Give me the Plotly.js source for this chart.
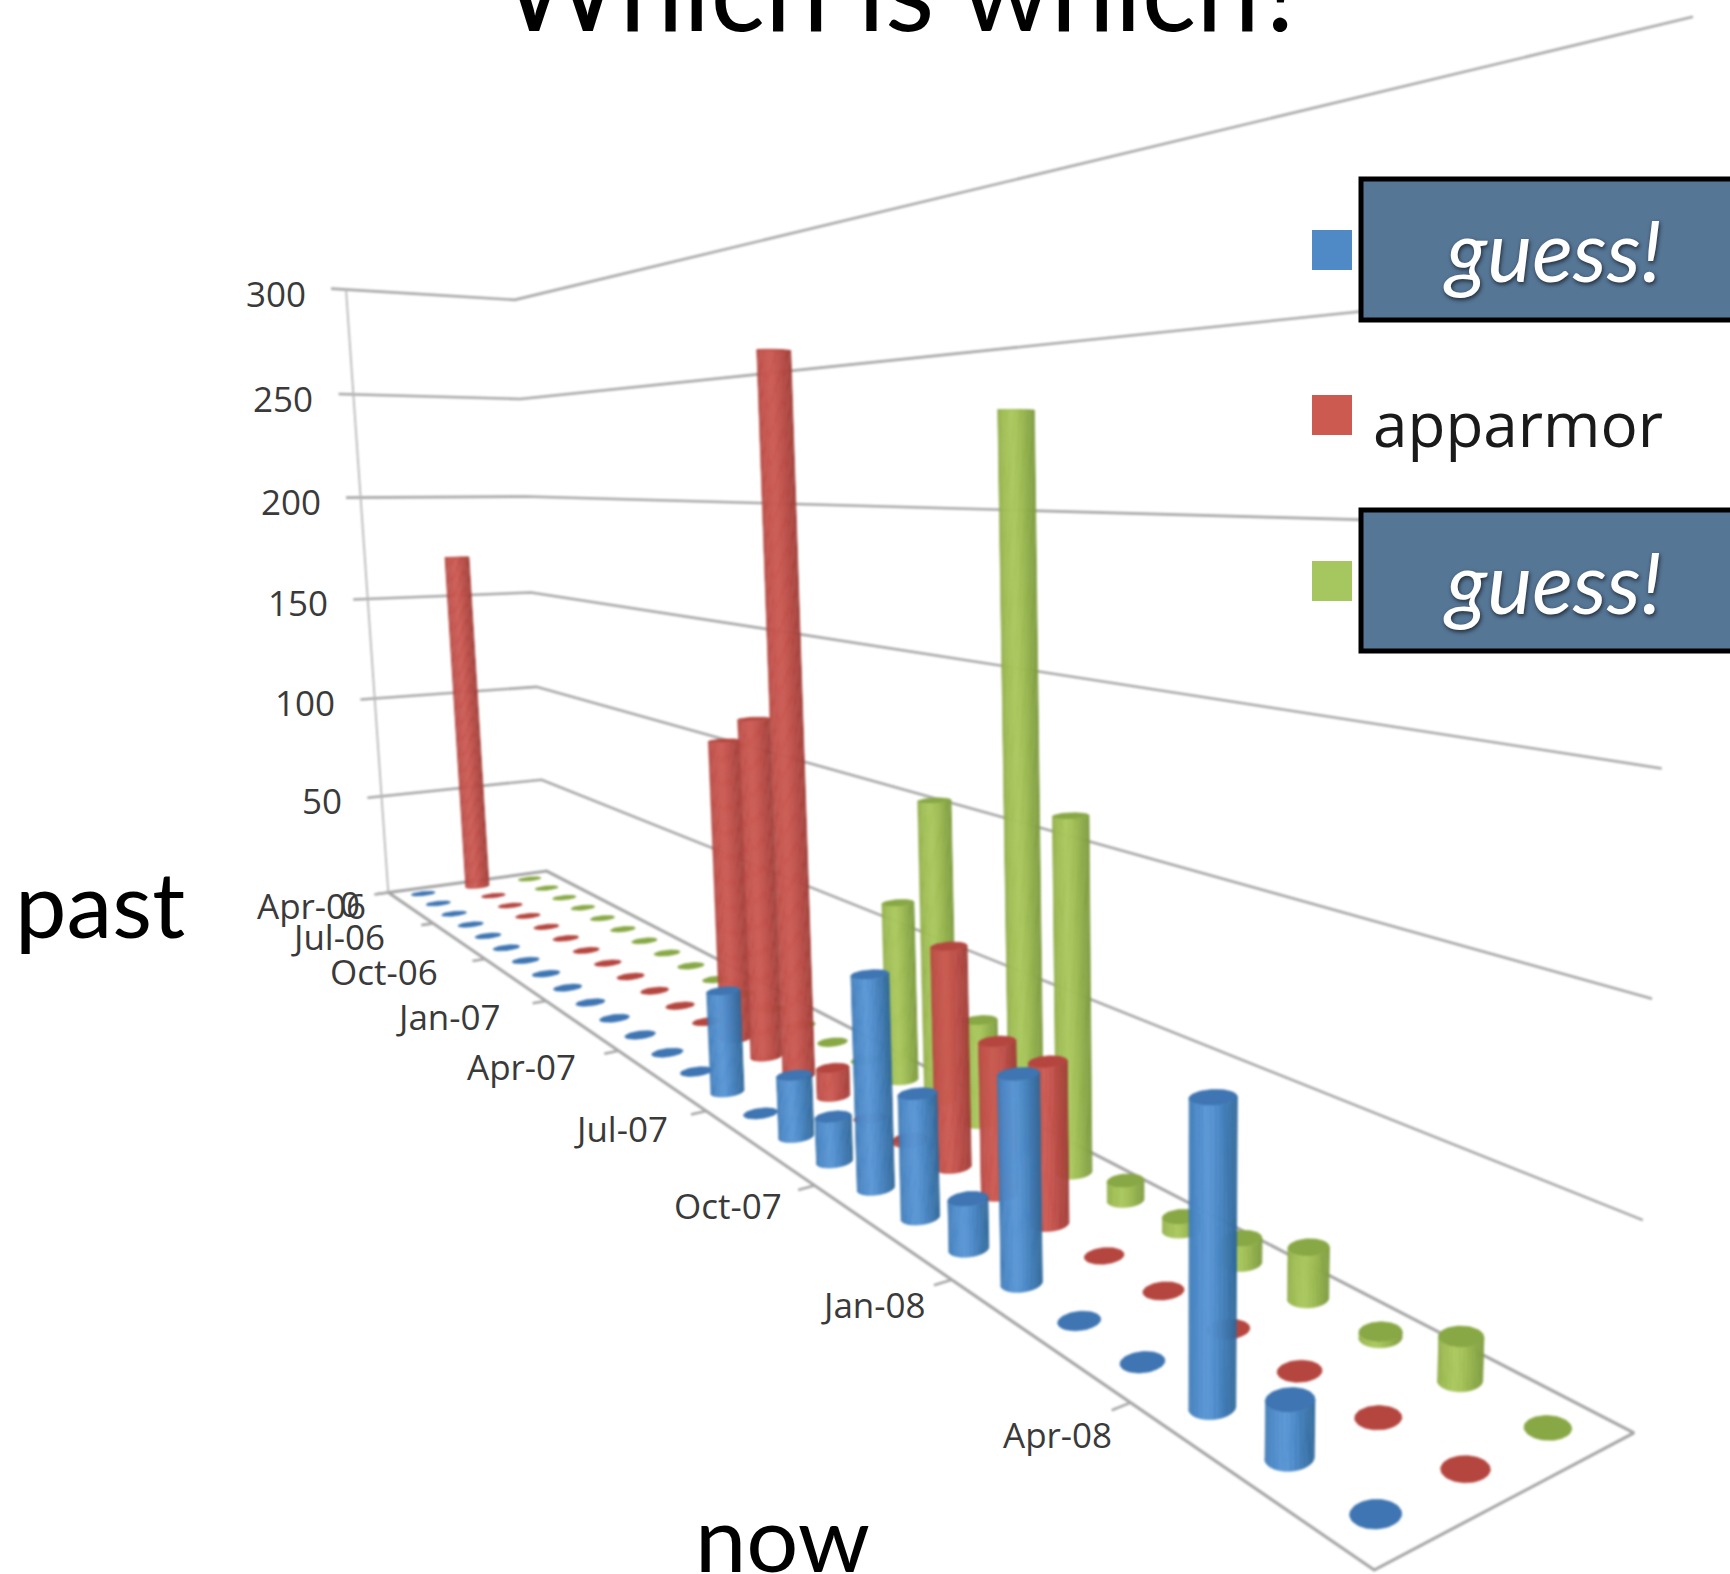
<!DOCTYPE html>
<html><head><meta charset="utf-8">
<script src="https://cdn.plot.ly/plotly-3.0.1.min.js"></script>
<style>html,body{margin:0;padding:0;background:#fff;overflow:hidden}
.scatterlayer{filter:blur(0.9px)}</style></head>
<body><div id="chart" style="width:1730px;height:1574px"></div>
<script>
const months = ["Apr-06","May-06","Jun-06","Jul-06","Aug-06","Sep-06","Oct-06","Nov-06","Dec-06","Jan-07","Feb-07","Mar-07","Apr-07","May-07","Jun-07","Jul-07","Aug-07","Sep-07","Oct-07","Nov-07","Dec-07","Jan-08","Feb-08","Mar-08","Apr-08","May-08","Jun-08"];
const tickMonths = ["Apr-06","Jul-06","Oct-06","Jan-07","Apr-07","Jul-07","Oct-07","Jan-08","Apr-08"];
const valueTicks = [0,50,100,150,200,250,300];
const seriesNames = ["guess!","apparmor","guess!"];
const series1 = [0,0,0,0,0,0,0,0,0,0,0,0,0,0,36,0,20.5,14.5,66,37,14.5,57.5,0,0,74,13.5,0];
const series2 = [170,0,0,0,0,0,0,0,0,0,0,0,114,125,252,10,0,1,70,47,48,0,0,0,0,0,0];
const series3 = [0,0,0,0,0,0,0,0,0,0,0,0,0,0,0,64,104,35,230,111,6,4,7,14,1.5,11,0];
const seriesValues = [series1,series2,series3];
const blues  = ["#2f6798","#4a87c6","#5b98d6","#3e75b2"];
const reds   = ["#a03d37","#c1504a","#cc5c54","#b5463f"];
const greens = ["#7c9a3e","#9dbb52","#abc95f","#88a845"];
const palette = [blues,reds,greens];
const S = 1730/1568;
// camera calibration: [month, series, value, px, py] in reference view
const calib = [
[0,0,0,355,810],[0,0,50,347,722],[0,0,100,340,632],[0,0,150,333,540],[0,0,200,326,450],[0,0,250,319,357],[0,0,300,312,265],
[0,3,0,490,790],[0,3,50,490,707],[0,3,100,487,622],[0,3,150,484,537],[0,3,200,480,450],[0,3,250,472,362],[0,3,300,465,272],
[27,3,0,1480,1298],[27,3,50,1490,1105],[27,3,100,1498,905],[27,3,150,1505,697],[27,3,300,1535,15],
[27,0,0,1240,1420],[26.5,.5,0,1250,1372],[26.5,1.5,0,1330,1330],[26.5,2.5,0,1403,1293],[24.5,.5,0,1100,1280],[18.5,.5,0,790,1078],[21.5,.5,0,928,1165],[14.5,.5,0,660,990]
];
function solve(A,b){const n=b.length;for(let i=0;i<n;i++){let p=i;for(let r=i+1;r<n;r++)if(Math.abs(A[r][i])>Math.abs(A[p][i]))p=r;
 [A[i],A[p]]=[A[p],A[i]];[b[i],b[p]]=[b[p],b[i]];
 for(let r=i+1;r<n;r++){const f=A[r][i]/A[i][i];for(let c=i;c<n;c++)A[r][c]-=f*A[i][c];b[r]-=f*b[i];}}
 const x=new Array(n).fill(0);for(let i=n-1;i>=0;i--){let s=b[i];for(let c=i+1;c<n;c++)s-=A[i][c]*x[c];x[i]=s/A[i][i];}return x;}
const US=1/27,VS=1/3,HS=1/300,PS=1/1000;
function fit(){const rows=[],rhs=[];
 calib.forEach(([m,s,h,px,py])=>{const u=m*US,v=s*VS,w=h*HS,X=px*S*PS,Y=py*S*PS;
  rows.push([u,v,w,1,0,0,0,0,-X*u,-X*v,-X*w]);rhs.push(X);
  rows.push([0,0,0,0,u,v,w,1,-Y*u,-Y*v,-Y*w]);rhs.push(Y);});
 const n=11,A=[...Array(n)].map(()=>Array(n).fill(0)),b=Array(n).fill(0);
 rows.forEach((r,k)=>{for(let i=0;i<n;i++){b[i]+=r[i]*rhs[k];for(let j=0;j<n;j++)A[i][j]+=r[i]*r[j];}});
 return solve(A,b);}
const C=fit();
function P(m,s,h){const u=m*US,v=s*VS,w=h*HS,d=C[8]*u+C[9]*v+C[10]*w+1;
 return [(C[0]*u+C[1]*v+C[2]*w+C[3])/d/PS,(C[4]*u+C[5]*v+C[6]*w+C[7])/d/PS];}

const traces=[];
function line(pts,color,width){traces.push({type:'scatter',mode:'lines',x:pts.map(p=>p[0]),y:pts.map(p=>p[1]),line:{color,width},hoverinfo:'skip',showlegend:false});}
function poly(pts,color){traces.push({type:'scatter',mode:'lines',x:pts.map(p=>p[0]),y:pts.map(p=>p[1]),fill:'toself',fillcolor:color,line:{color,width:0.6},hoverinfo:'skip',showlegend:false});}
const grid='#a8a8a8';
const nM=months.length,topV=Math.max(...valueTicks);
valueTicks.forEach(h=>{ if(h>0) line([P(0,-0.25,h),P(0,0,h),P(0,3,h),P(nM,3,h)],grid,2.6); else line([P(0,-0.25,0),P(0,0,0)],grid,2.6);});
line([P(0,0,0),P(0,0,topV)],'#b8b8b8',1.8);
line([P(0,0,0),P(0,3,0),P(nM,3,0),P(nM,0,0),P(0,0,0)],'#a4a4a4',3);
tickMonths.forEach(t=>{const m=months.indexOf(t);line([P(m,-0.2,0),P(m,0,0)],grid,2.6);});

function hex(c){return [1,3,5].map(i=>parseInt(c.substr(i,2),16));}
function mix(a,b,f){const A=hex(a),B=hex(b);return 'rgb('+A.map((x,i)=>Math.round(x+(B[i]-x)*f)).join(',')+')';}
function shade(pal,s){ if(s<.12) return mix(pal[1],pal[0],.45*(1-s/.12)); if(s<.4) return mix(pal[1],pal[2],(s-.12)/.28);
 if(s<.62) return mix(pal[2],pal[1],(s-.4)/.22); return mix(pal[1],pal[0],(s-.62)/.38);}
const RU=.185,RV=.212,N=64;
function ring(m,s,h){const o=[];for(let i=0;i<N;i++){const t=2*Math.PI*i/N;o.push(P(m+RU*Math.cos(t),s+RV*Math.sin(t),h));}return o;}
function cylinder(m,s,val,pal){
 const base=ring(m,s,0);
 if(!val){poly(base,pal[3]);return;}
 const tp=ring(m,s,val);
 poly(tp,pal[3]);
 let iL=0,iR=0;base.forEach((p,i)=>{if(p[0]<base[iL][0])iL=i;if(p[0]>base[iR][0])iR=i;});
 // front arc: the path from left to right with the larger screen y
 const fwd=[],bck=[];
 for(let i=iL;;i=(i+1)%N){fwd.push(i);if(i===iR)break;}
 for(let i=iL;;i=(i-1+N)%N){bck.push(i);if(i===iR)break;}
 const sum=a=>a.reduce((q,i)=>q+base[i][1],0)/a.length;
 const arc=sum(fwd)>sum(bck)?fwd:bck;
 const x0=base[iL][0],x1=base[iR][0];
 for(let k=0;k<arc.length-1;k+=2){
  const e=Math.min(k+2,arc.length-1),a=arc[k],b=arc[e];
  const sm=((base[a][0]+base[b][0])/2-x0)/(x1-x0);
  const bot=[],up=[];for(let j=k;j<=e;j++){bot.push(base[arc[j]]);up.push(tp[arc[j]]);}
  poly(bot.concat(up.reverse()),shade(pal,sm));
 }
}
for(let s=seriesValues.length-1;s>=0;s--){seriesValues[s].forEach((v,m)=>cylinder(m+.5,s+.5,v,palette[s]));}

const tickFont={family:'"Open Sans",sans-serif',size:35,color:'#3a3a3a'};
const ann=[];
valueTicks.forEach(h=>{const p=P(0,0,h);ann.push({x:p[0],y:p[1],xref:'x',yref:'y',text:String(h),showarrow:false,xanchor:'right',yanchor:'middle',xshift:h?-38:-26,yshift:h?-4:-11,font:tickFont});});
tickMonths.forEach(t=>{const m=months.indexOf(t),p=P(m,0,0);
 const dx=m?(-18+.061*(m-3)*(m-3)):5, dy=m<9?-3:(m>12?.1*(m-12)*(m-12):0);
 ann.push({x:p[0],y:p[1],xref:'x',yref:'y',text:t,showarrow:false,xanchor:'right',yanchor:'middle',xshift:-26+dx*S,yshift:-16-dy*S,font:tickFont});});
const big={family:'Lato,sans-serif',size:92,color:'#000'};
ann.push({x:905,y:33,xref:'x',yref:'y',text:'Which is which?',showarrow:false,xanchor:'center',yanchor:'bottom',yshift:-24,font:{family:'Lato,sans-serif',size:114,color:'#000'}});
ann.push({x:100,y:902,xref:'x',yref:'y',text:'past',showarrow:false,xanchor:'center',yanchor:'middle',font:big});
ann.push({x:782,y:1536,xref:'x',yref:'y',text:'now',showarrow:false,xanchor:'center',yanchor:'middle',font:big});
const guessFont={family:'Lato,sans-serif',size:85,color:'#fff',style:'italic',shadow:'1px 2px 4px rgba(0,0,0,.65)'};
ann.push({x:1552,y:249,xref:'x',yref:'y',text:seriesNames[0],showarrow:false,xanchor:'center',yanchor:'middle',font:guessFont});
ann.push({x:1552,y:581,xref:'x',yref:'y',text:seriesNames[2],showarrow:false,xanchor:'center',yanchor:'middle',font:guessFont});
ann.push({x:1371,y:423,xref:'x',yref:'y',text:seriesNames[1],showarrow:false,xanchor:'left',yanchor:'middle',font:{family:'"Open Sans",sans-serif',size:62,color:'#1a1a1a'}});
const box=(y0,y1)=>({type:'rect',layer:'above',xref:'x',yref:'y',x0:1361,x1:1740,y0,y1,fillcolor:'#567696',line:{color:'#000',width:5}});
const sw=(y0,c)=>({type:'rect',layer:'above',xref:'x',yref:'y',x0:1312,x1:1352,y0,y1:y0+40,fillcolor:c,line:{width:0}});
const shapes=[box(179,320),box(510,651),sw(230,'#4f8ac6'),sw(395,'#cc5a50'),sw(561,'#a6c660')];
Plotly.newPlot('chart',traces,{width:1730,height:1574,margin:{l:0,r:0,t:0,b:0},showlegend:false,paper_bgcolor:'#fff',plot_bgcolor:'#fff',
 xaxis:{range:[0,1730],visible:false,fixedrange:true},yaxis:{range:[1574,0],visible:false,fixedrange:true},annotations:ann,shapes},{staticPlot:true,displayModeBar:false});
</script></body></html>
